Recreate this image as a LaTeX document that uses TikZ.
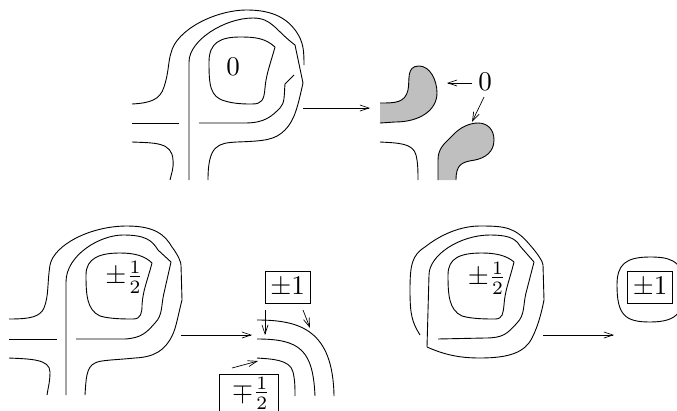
\documentclass[tikz,border=0pt]{standalone}
\usepackage{amsmath, amssymb}
\usetikzlibrary{arrows.meta, calc, positioning}

\tikzset{
  curve/.style={line width=0.9pt, line join=round},
  conn/.style={line width=0.7pt, -{Straight Barb[length=9pt,width=6pt]}},
  label/.style={scale=2.7, inner sep=0pt},
  boxlabel/.style={label, draw, line width=0.8pt, minimum width=16.67pt, minimum height=11.85pt},
}
\newcommand{\halfsign}{\frac{1}{\rule{0pt}{5.4pt}2}}
\newcommand{\upperblob}{(380,103) .. controls (395,103) and (405,103) .. (408,90) .. controls (410,80) and (406,66) .. (419,66) .. controls (430,66) and (437,80) .. (437,93) .. controls (437,110) and (420,122) .. (395,122) -- (380,123)}

\begin{document}
\begin{tikzpicture}[x=1pt,y=-1pt]
\useasboundingbox (0,0) rectangle (677,410);

% Top left figure
\draw[curve] (132,104) .. controls (150,103) and (160,100) .. (164,87) .. controls (169,72) and (168,62) .. (171,53) .. controls (176,30) and (215,10) .. (247,10) .. controls (272,10) and (290,18) .. (300,38) .. controls (303,45) and (304,50) .. (304,65);
\draw[curve] (189,180) -- (189,62) .. controls (189,40) and (225,18) .. (253,18) .. controls (272,18) and (275,30) .. (295,45) -- (303,83) .. controls (298,105) and (295,120) .. (285,130) .. controls (275,140) and (265,141) .. (237,142) .. controls (218,143) and (208,145) .. (208,180);
\draw[curve] (275,47) .. controls (265,38) and (255,37) .. (240,37) .. controls (220,37) and (209,43) .. (209,62) .. controls (209,85) and (210,97) .. (225,101) .. controls (235,104) and (245,104) .. (252,104) .. controls (262,104) and (264,100) .. (265,88) .. controls (266,75) and (270,65) .. (275,47);
\draw[curve] (199,123) -- (245,123) .. controls (265,123) and (272,116) .. (280,108) .. controls (285,103) and (284,95) .. (285,84) -- (294,75);
\draw[curve] (132,123) -- (179,123);
\draw[curve] (132,142) .. controls (155,143) and (172,142) .. (173,160) .. controls (174,168) and (171,175) .. (170,180);
\node[label] (zeroa) at (233,67) {$0$};

\coordinate (fromtop) at (303,108);
\coordinate (totop) at (370,108);
\draw[conn] (fromtop) -- (totop);

% Top right figure
\fill[black!25] \upperblob -- cycle;
\draw[curve] \upperblob;
\draw[curve,fill=black!25] (438,180) -- (438,160) .. controls (438,148) and (445,143) .. (452,136) .. controls (460,127) and (470,123) .. (478,123) .. controls (488,123) and (494,130) .. (494,140) .. controls (494,152) and (485,158) .. (475,160) .. controls (462,162) and (456,164) .. (456,180);
\draw[curve] (380,142) .. controls (398,143) and (413,143) .. (416,155) .. controls (418,163) and (418,172) .. (418,180);
\node[label] (zerob) at (485,82) {$0$};
\coordinate (blobup) at (447,83);
\coordinate (bloblow) at (472,122);
\coordinate (zeroleft) at (472,83);
\coordinate (zerolow) at (484,97);
\draw[conn] (zeroleft) -- (blobup);
\draw[conn] (zerolow) -- (bloblow);

% Bottom left figure
\draw[curve] (9,319) .. controls (30,319) and (40,317) .. (44,308) .. controls (49,295) and (47,285) .. (50,265) .. controls (54,245) and (90,226) .. (127,226) .. controls (155,226) and (165,235) .. (172,247) .. controls (178,255) and (181,262) .. (181,265) -- (182,300) .. controls (177,320) and (176,328) .. (172,336) .. controls (165,350) and (155,357) .. (135,358) .. controls (115,360) and (100,360) .. (95,363) .. controls (86,367) and (86,380) .. (85,395);
\draw[curve] (66,395) -- (66,282) .. controls (66,255) and (100,235) .. (123,235) .. controls (145,235) and (152,240) .. (158,250) -- (171,262) -- (164,293) .. controls (161,305) and (163,315) .. (155,323) .. controls (147,332) and (142,338) .. (125,339) -- (76,339);
\draw[curve] (152,263) .. controls (145,256) and (135,253) .. (120,253) .. controls (100,253) and (86,258) .. (86,275) .. controls (86,295) and (87,310) .. (100,316) .. controls (110,319) and (125,319) .. (133,319) .. controls (141,319) and (142,313) .. (142,305) .. controls (143,290) and (147,282) .. (152,263);
\draw[curve] (9,339) -- (57,339);
\draw[curve] (9,358) .. controls (30,359) and (50,359) .. (50,372) .. controls (50,382) and (48,388) .. (47,395);
\node[label] (halfa) at (124.5,277) {$\pm\halfsign$};

\coordinate (fromlow) at (181,335);
\coordinate (tolow) at (252,335);
\draw[conn] (fromlow) -- (tolow);

% Bottom middle figure
\draw[curve] (257,320) .. controls (300,320) and (333,330) .. (334,396);
\draw[curve] (257,339) .. controls (300,339) and (313,350) .. (315,396);
\draw[curve] (257,358) .. controls (270,359) and (290,359) .. (293,372) .. controls (295,380) and (295,388) .. (295,396);
\node[boxlabel] (pmone) at (287.5,287) {$\pm 1$};
\node[boxlabel, minimum width=21.85pt, minimum height=14.07pt] (mphalf) at (248.5,393) {\kern2pt$\mp\halfsign$};
\coordinate (pmdown) at (265,310);
\coordinate (pmtip) at (265,335);
\coordinate (pmright) at (303,310);
\coordinate (pmend) at (310,328);
\coordinate (mpstart) at (232,368);
\coordinate (mpend) at (258,361);
\draw[conn] (pmdown) -- (pmtip);
\draw[conn] (pmright) -- (pmend);
\draw[conn] (mpstart) -- (mpend);

% Bottom right figure
\draw[curve] (420,335) .. controls (412,322) and (410,315) .. (410,290) .. controls (410,265) and (412,255) .. (425,247) .. controls (440,235) and (460,226) .. (480,226) .. controls (505,226) and (515,227) .. (530,245) .. controls (538,254) and (543,262) .. (543,265) -- (544,300) .. controls (540,320) and (536,330) .. (532,338) .. controls (525,352) and (510,358) .. (480,358) .. controls (460,358) and (445,355) .. (427,347);
\draw[curve] (427,347) -- (429,275) .. controls (429,255) and (460,235) .. (490,235) .. controls (505,235) and (515,237) .. (520,246) -- (534,262) -- (526,293) .. controls (523,305) and (525,315) .. (517,323) .. controls (507,334) and (503,338) .. (485,338) -- (438,339);
\draw[curve] (514,262) .. controls (507,256) and (497,253) .. (482,253) .. controls (460,253) and (448,258) .. (448,275) .. controls (448,295) and (449,310) .. (462,316) .. controls (472,319) and (487,319) .. (495,319) .. controls (503,319) and (503,313) .. (504,305) .. controls (505,290) and (509,282) .. (514,262);
\node[label] (halfb) at (487,278) {$\pm\halfsign$};

\coordinate (fromright) at (543,335);
\coordinate (toright) at (614,335);
\draw[conn] (fromright) -- (toright);

\node[boxlabel] (pmtwo) at (650,287) {$\pm 1$};
\draw[curve] (617,285) .. controls (617,265) and (625,257) .. (650,257) .. controls (665,257) and (684,258) .. (684,285) .. controls (684,310) and (680,322) .. (650,322) .. controls (625,322) and (617,315) .. (617,285) -- cycle;

\end{tikzpicture}
\end{document}
